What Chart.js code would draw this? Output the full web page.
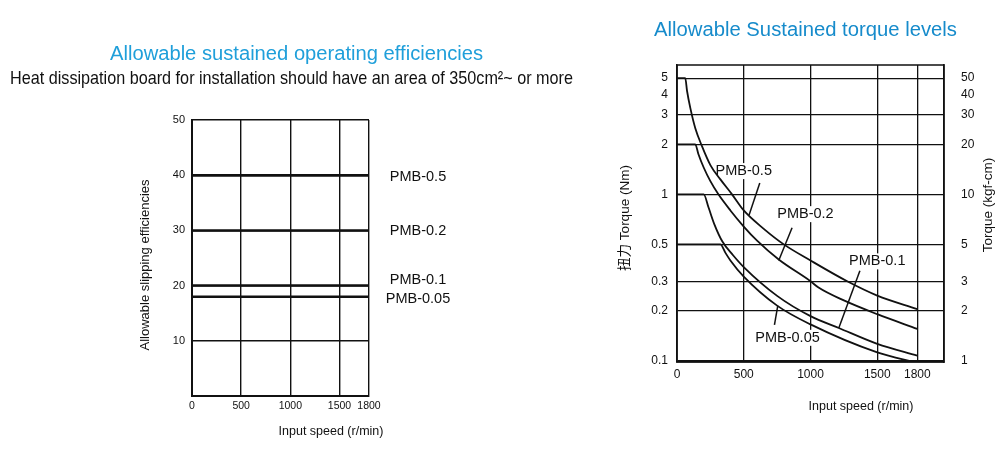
<!DOCTYPE html>
<html>
<head>
<meta charset="utf-8">
<script src="https://cdn.jsdelivr.net/npm/chart.js@4.4.1/dist/chart.umd.min.js"></script>
<style>
  body { margin: 0; background: #fff; width: 1000px; height: 466px; overflow: hidden; position: relative; }
  .box { position: absolute; top: 0; height: 466px; }
</style>
</head>
<body>
<div class="box" style="left:0;width:600px"><canvas id="eff"></canvas></div>
<div class="box" style="left:500px;width:500px"><canvas id="torque"></canvas></div>
<script>
// left chart: allowable slipping efficiency per model
const speedTicks = [0, 500, 1000, 1500, 1800];
const effModels = ["PMB-0.5", "PMB-0.2", "PMB-0.1", "PMB-0.05"];
const effLevels = [40, 30, 20, 18];
const effLabelLevels = [39.6, 29.9, 21, 17.5];
const effTicks = [0, 10, 20, 30, 40, 50];

// right chart: sustained torque curves (Nm vs r/min)
const torqueModels = ["PMB-0.5", "PMB-0.2", "PMB-0.1", "PMB-0.05"];
const speed05 = [0, 62, 75, 100, 137, 187, 250, 325, 412, 500, 650, 800, 1000, 1275, 1500, 1800];
const torque05 = [5, 5, 4.2, 3.3, 2.5, 1.95, 1.5, 1.23, 1.0, 0.8, 0.62, 0.5, 0.4, 0.3, 0.246, 0.204];
const speed02 = [0, 137, 160, 200, 250, 310, 400, 500, 600, 762, 1000, 1060, 1250, 1500, 1800];
const torque02 = [2, 2, 1.75, 1.45, 1.2, 1.0, 0.8, 0.64, 0.526, 0.405, 0.3, 0.275, 0.23, 0.19, 0.155];
const speed01 = [0, 200, 237, 280, 340, 420, 500, 750, 1000, 1212, 1500, 1800];
const torque01 = [1, 1, 0.83, 0.66, 0.52, 0.43, 0.365, 0.245, 0.185, 0.157, 0.126, 0.107];
const speed005 = [0, 325, 362, 400, 500, 750, 1000, 1500, 1800];
const torque005 = [0.5, 0.5, 0.446, 0.4, 0.32, 0.214, 0.165, 0.112, 0.097];
const torqueTicks = [0.1, 0.2, 0.3, 0.5, 1, 2, 3, 4, 5];
const kgfTicks = [1, 2, 3, 5, 10, 20, 30, 40, 50];

// leader lines from labels to curves, and label anchors
const leaderSpeed = [[620, 540], [862, 762], [1370, 1212], [730, 755]];
const leaderTorque = [[1.17, 0.75], [0.63, 0.4], [0.347, 0.157], [0.164, 0.214]];
const labelSpeed = [500, 962, 1500, 828];
const labelTorque = [1.38, 0.76, 0.395, 0.137];

const FONT = "'Liberation Sans', Arial, 'Noto Sans CJK SC', sans-serif";
const INK = "#111";

function toPoints(xs, ys) {
  return xs.map((x, i) => ({ x: x, y: ys[i] }));
}

// draw centred text stretched/squeezed to a given width
function fitText(ctx, text, cx, cy, width) {
  const w = ctx.measureText(text).width;
  ctx.save();
  ctx.translate(cx, cy);
  ctx.scale(width / w, 1);
  ctx.fillText(text, 0, 0);
  ctx.restore();
}

// ---------- left chart ----------
const effText = {
  id: "effText",
  afterDraw(chart) {
    const { ctx, chartArea, scales } = chart;
    ctx.save();
    ctx.textAlign = "center";
    ctx.textBaseline = "middle";
    ctx.fillStyle = "#1f9fda";
    ctx.font = "20px " + FONT;
    fitText(ctx, "Allowable sustained operating efficiencies", 296.5, 54, 373);
    ctx.fillStyle = INK;
    ctx.font = "19px 'Liberation Sans Narrow', " + FONT;
    fitText(ctx, "Heat dissipation board for installation should have an area of 350cm²~ or more", 291.5, 78.5, 563);

    ctx.font = "14.5px " + FONT;
    effModels.forEach((m, i) => {
      ctx.fillText(m, chartArea.right + 49, scales.y.getPixelForValue(effLabelLevels[i]));
    });

    ctx.font = "12.5px " + FONT;
    ctx.fillText("Input speed (r/min)", 331, 432);
    ctx.translate(145, 265);
    ctx.rotate(-Math.PI / 2);
    ctx.font = "13px " + FONT;
    ctx.fillText("Allowable slipping efficiencies", 0, 0);
    ctx.restore();
  }
};

new Chart(document.getElementById("eff"), {
  type: "line",
  data: {
    datasets: effModels.map((m, i) => ({
      label: m,
      data: toPoints([0, 1800], [effLevels[i], effLevels[i]]),
      borderColor: INK,
      borderWidth: 2.5,
      pointRadius: 0
    }))
  },
  options: {
    responsive: true,
    maintainAspectRatio: false,
    animation: false,
    layout: { padding: { left: 0, top: 120, right: 231, bottom: 40 } },
    plugins: { legend: { display: false }, tooltip: { enabled: false } },
    scales: {
      x: {
        type: "linear", min: 0, max: 1800,
        afterBuildTicks: s => { s.ticks = speedTicks.map(v => ({ value: v })); },
        afterFit: s => { s.height = 30; },
        grid: { color: INK, lineWidth: 1.4, drawTicks: false },
        border: { color: INK, width: 2 },
        ticks: { color: INK, font: { size: 10.5, family: FONT }, padding: 4, autoSkip: false, maxRotation: 0,
          callback: v => String(v) }
      },
      y: {
        type: "linear", min: 0, max: 50,
        afterBuildTicks: s => { s.ticks = effTicks.map(v => ({ value: v })); },
        afterFit: s => { s.width = 192; },
        grid: { color: INK, lineWidth: 1.4, drawTicks: false },
        border: { color: INK, width: 2 },
        ticks: { color: INK, font: { size: 11, family: FONT }, padding: 7, autoSkip: false,
          callback: v => (v === 0 ? "" : String(v)) }
      }
    }
  },
  plugins: [effText]
});

// ---------- right chart ----------
const torqueText = {
  id: "torqueText",
  beforeDatasetsDraw(chart) {
    const { ctx, scales } = chart;
    ctx.save();
    ctx.font = "14.5px " + FONT;
    ctx.textAlign = "center";
    ctx.textBaseline = "middle";
    torqueModels.forEach((m, i) => {
      const x = scales.x.getPixelForValue(labelSpeed[i]);
      const y = scales.y.getPixelForValue(labelTorque[i]);
      const w = ctx.measureText(m).width;
      ctx.fillStyle = "#fff";
      ctx.fillRect(x - w / 2 - 1, y - 8, w + 2, 16);
      ctx.fillStyle = INK;
      ctx.fillText(m, x, y);
    });
    ctx.restore();
  },
  afterDraw(chart) {
    const { ctx, chartArea } = chart;
    ctx.save();
    ctx.strokeStyle = INK;
    ctx.lineWidth = 1.5;
    ctx.strokeRect(chartArea.left, chartArea.top, chartArea.right - chartArea.left, chartArea.bottom - chartArea.top);
    ctx.textAlign = "center";
    ctx.textBaseline = "middle";
    ctx.fillStyle = "#168bcb";
    ctx.font = "20px " + FONT;
    fitText(ctx, "Allowable Sustained torque levels", 305.5, 30, 303);
    ctx.fillStyle = INK;
    ctx.font = "12.5px " + FONT;
    ctx.fillText("Input speed (r/min)", 361, 407);
    ctx.save();
    ctx.translate(125, 218);
    ctx.rotate(-Math.PI / 2);
    ctx.font = "13.5px " + FONT;
    ctx.fillText("扭力 Torque (Nm)", 0, 0);
    ctx.restore();
    ctx.translate(488, 205);
    ctx.rotate(-Math.PI / 2);
    ctx.font = "13.5px " + FONT;
    ctx.fillText("Torque (kgf-cm)", 0, 0);
    ctx.restore();
  }
};

const curveSets = [[speed05, torque05], [speed02, torque02], [speed01, torque01], [speed005, torque005]];

new Chart(document.getElementById("torque"), {
  type: "line",
  data: {
    datasets: curveSets.map((c, i) => ({
      label: torqueModels[i],
      data: toPoints(c[0], c[1]),
      borderColor: INK,
      borderWidth: 1.8,
      pointRadius: 0,
      cubicInterpolationMode: "monotone"
    })).concat(leaderSpeed.map((s, i) => ({
      label: torqueModels[i] + " leader",
      data: toPoints(s, leaderTorque[i]),
      borderColor: INK,
      borderWidth: 1.5,
      pointRadius: 0
    })))
  },
  options: {
    responsive: true,
    maintainAspectRatio: false,
    animation: false,
    layout: { padding: { left: 0, top: 65, right: 0, bottom: 74 } },
    plugins: { legend: { display: false }, tooltip: { enabled: false } },
    scales: {
      x: {
        type: "linear", min: 0, max: 2000,
        afterBuildTicks: s => { s.ticks = speedTicks.map(v => ({ value: v })); },
        afterFit: s => { s.height = 30; },
        grid: { color: INK, lineWidth: 1.3, drawTicks: false },
        border: { color: INK, width: 1.5 },
        ticks: { color: INK, font: { size: 12, family: FONT }, padding: 5, autoSkip: false, maxRotation: 0,
          callback: v => String(v) }
      },
      y: {
        type: "logarithmic", min: 0.098, max: 6,
        afterBuildTicks: s => { s.ticks = torqueTicks.map(v => ({ value: v })); },
        afterFit: s => { s.width = 177; },
        grid: { color: c => (c.tick && c.tick.value === 4 ? "rgba(0,0,0,0)" : INK), lineWidth: 1.3, drawTicks: false },
        border: { color: INK, width: 1.5 },
        ticks: { color: INK, font: { size: 12, family: FONT }, padding: 9, autoSkip: false, callback: v => String(v) }
      },
      y2: {
        type: "logarithmic", position: "right", min: 0.98, max: 60,
        afterBuildTicks: s => { s.ticks = kgfTicks.map(v => ({ value: v })); },
        afterFit: s => { s.width = 56; },
        grid: { display: false },
        border: { color: INK, width: 1.5 },
        ticks: { color: INK, font: { size: 12, family: FONT }, padding: 9, autoSkip: false, callback: v => String(v) }
      }
    }
  },
  plugins: [torqueText]
});
</script>
</body>
</html>
